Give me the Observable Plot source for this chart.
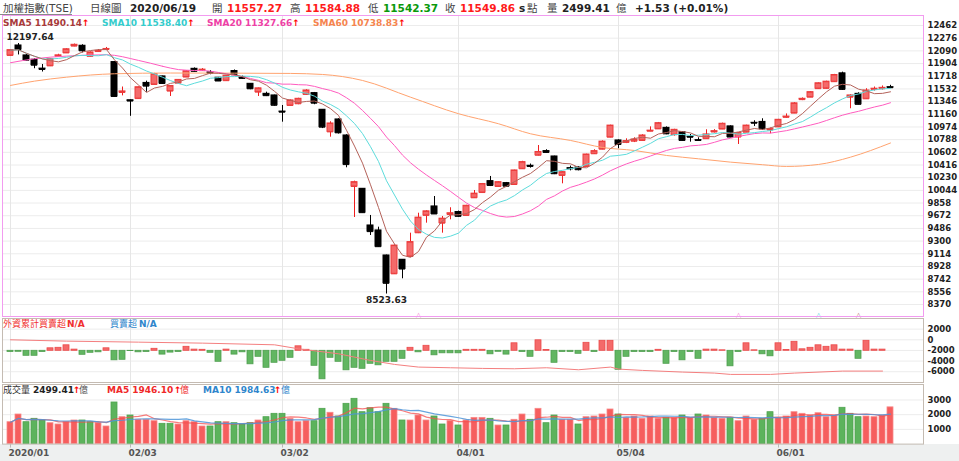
<!DOCTYPE html>
<html lang="zh-Hant">
<head>
<meta charset="utf-8">
<script src="https://cdn.jsdelivr.net/npm/d3@7"></script>
<script src="https://cdn.jsdelivr.net/npm/@observablehq/plot@0.6"></script>
<style>
html,body{margin:0;padding:0;background:#fff;}
#chart{position:relative;width:959px;height:461px;overflow:hidden;background:#fff;font-family:"DejaVu Sans","Noto Sans CJK TC",sans-serif;}
#chart svg{position:absolute;left:0;}
.t{position:absolute;white-space:nowrap;line-height:1;}
.b{font-weight:bold;}
#strip{position:absolute;left:0;top:444px;width:959px;height:17px;background:#eef0f0;}
#uline{position:absolute;left:0;top:14px;width:72px;height:1px;background:#8a8a8a;}
</style>
</head>
<body>
<div id="chart"><div id="strip"></div><div id="uline"></div></div>
<script>
// ---------- data ----------
const dates = [
"2020-01-02","2020-01-03","2020-01-06","2020-01-07","2020-01-08","2020-01-09","2020-01-10","2020-01-13","2020-01-14","2020-01-15",
"2020-01-16","2020-01-17","2020-01-20","2020-01-30","2020-01-31","2020-02-03","2020-02-04","2020-02-05","2020-02-06","2020-02-07",
"2020-02-10","2020-02-11","2020-02-12","2020-02-13","2020-02-14","2020-02-17","2020-02-18","2020-02-19","2020-02-20","2020-02-21",
"2020-02-24","2020-02-25","2020-02-26","2020-02-27","2020-03-02","2020-03-03","2020-03-04","2020-03-05","2020-03-06","2020-03-09",
"2020-03-10","2020-03-11","2020-03-12","2020-03-13","2020-03-16","2020-03-17","2020-03-18","2020-03-19","2020-03-20","2020-03-23",
"2020-03-24","2020-03-25","2020-03-26","2020-03-27","2020-03-30","2020-03-31","2020-04-01","2020-04-06","2020-04-07","2020-04-08",
"2020-04-09","2020-04-10","2020-04-13","2020-04-14","2020-04-15","2020-04-16","2020-04-17","2020-04-20","2020-04-21","2020-04-22",
"2020-04-23","2020-04-24","2020-04-27","2020-04-28","2020-04-29","2020-04-30","2020-05-04","2020-05-05","2020-05-06","2020-05-07",
"2020-05-08","2020-05-11","2020-05-12","2020-05-13","2020-05-14","2020-05-15","2020-05-18","2020-05-19","2020-05-20","2020-05-21",
"2020-05-22","2020-05-25","2020-05-26","2020-05-27","2020-05-28","2020-05-29","2020-06-01","2020-06-02","2020-06-03","2020-06-04",
"2020-06-05","2020-06-08","2020-06-09","2020-06-10","2020-06-11","2020-06-12","2020-06-15","2020-06-16","2020-06-17","2020-06-18",
"2020-06-19"];

const open = [
12023,12169,12023,11960,11830,11870,12010,12060,12160,12165,
12010,12080,12110,11925,11480,11365,11390,11620,11597,11715,
11500,11616,11706,11827,11800,11774,11696,11653,11794,11700,
11607,11485,11460,11436,11200,11289,11314,11451,11470,11226,
10902,11084,10849,10101,10067,9529,9456,9089,8820,9026,
9074,9422,9677,9808,9563,9690,9726,9676,9935,10012,
10179,10101,10150,10130,10361,10405,10559,10620,10541,10263,
10370,10380,10394,10581,10648,10824,10776,10747,10765,10776,
10912,10946,10961,10860,10897,10830,10780,10802,10900,10943,
10982,10826,10897,11035,11048,10930,10975,11115,11177,11375,
11411,11536,11540,11638,11760,11411,11460,11387,11525,11535,
11557.27];
const high = [
12110,12197.64,12035,11975,11890,11980,12040,12120,12190,12180,
12075,12110,12140,11930,11560,11370,11560,11646,11760,11720,
11580,11670,11795,11840,11830,11800,11700,11730,11810,11720,
11610,11545,11484,11440,11289,11370,11395,11520,11480,11230,
11050,11094,10860,10179,10070,9676,9504,9095,9245,9030,
9416,9709,9745,9954,9661,9789,9740,9825,10042,10145,
10248,10170,10160,10340,10470,10430,10702,10640,10545,10320,
10400,10390,10575,10640,10770,11000,10785,10800,10815,10860,
10975,11040,10975,10940,10905,10864,10815,10933,10935,11030,
10990,10890,11000,11065,11094,10960,11085,11165,11330,11400,
11490,11620,11645,11745,11778,11445,11475,11535,11560,11575,
11584.88];
const low = [
12010,12030,11940,11828,11780,11860,11995,12055,12150,12060,
12000,12070,12095,11410,11430,11130,11380,11484,11590,11600,
11421,11610,11700,11780,11790,11740,11640,11645,11725,11670,
11520,11421,11420,11280,11044,11280,11300,11440,11300,10950,
10824,10870,10375,9646,9710,9382,9210,8523.63,8810,8747,
9060,9410,9563,9690,9416,9612,9650,9670,9930,10000,
10100,10095,10090,10125,10355,10370,10550,10585,10275,10140,
10330,10330,10385,10570,10640,10815,10654,10730,10745,10770,
10905,10940,10860,10840,10765,10751,10770,10795,10885,10935,
10815,10717,10890,10981,10923,10874,10970,11100,11170,11360,
11405,11530,11530,11630,11510,11241,11300,11380,11500,11515,
11542.37];
const close = [
12100,12110,11953,11880,11817,11970,12024,12113,12179,12091,
12067,12090,12118,11421,11495,11354,11556,11573,11749,11612,
11574,11664,11791,11790,11815,11763,11648,11725,11741,11686,
11534,11540,11433,11292,11191,11363,11387,11509,11323,10971,
11025,10888,10422,10164,9717,9439,9218,8681,9234,8890,
9285,9644,9736,9698,9629,9708,9663,9818,9996,10137,
10116,10164,10105,10336,10458,10395,10607,10600,10288,10311,
10360,10347,10570,10619,10759,10994,10717,10767,10790,10849,
10920,11029,10873,10932,10776,10824,10776,10864,10912,11021,
10826,10885,10994,11030,10946,10942,11079,11127,11320,11387,
11484,11614,11638,11736,11525,11436,11306,11509,11535,11548,
11549.86];

// trading value (億), and whether the day closed up (U) or down (D) vs. the previous close
const volume = [
1490,2013,1490,1720,1605,1422,1333,1490,1605,1605,
1490,1422,1197,2830,1830,1945,1653,1653,1558,1380,
1380,1333,1558,1490,1197,1197,1490,1490,1422,1333,
1422,1605,1830,2060,2060,1720,1490,1558,1558,2400,
2130,1877,2740,3080,2170,2440,2170,2740,2400,1605,
1605,1945,1605,1877,1333,1558,1265,1605,1785,1785,
1720,1265,1265,1653,2013,1653,2400,1422,1945,1653,
1653,1333,1830,1877,2013,2354,2013,1785,1877,1720,
1877,1720,1785,1785,1945,1785,2013,1945,1785,1720,
1785,1558,1877,1653,1720,2170,1785,1877,2170,2060,
1945,2100,1830,1945,2470,2060,1830,1877,1830,1945,
2499.41];
const volumeDir = [
"U","U","D","D","D","U","U","U","U","D",
"D","U","U","D","U","D","U","U","U","D",
"D","U","U","U","U","D","D","U","D","D",
"D","U","D","D","D","U","U","U","D","D",
"U","D","D","D","D","D","D","D","U","D",
"U","U","U","D","D","U","D","U","U","U",
"D","U","D","U","U","D","U","D","D","U",
"U","D","U","U","U","U","D","U","U","U",
"U","U","D","U","D","U","D","U","U","U",
"D","U","U","U","D","D","U","U","U","U",
"U","U","U","U","D","D","D","U","U","U",
"U"];

// foreign investors daily net buy/sell bars (own scale) – last day N/A
const foreignNet = [
-12,-10,-50,-50,-12,25,30,55,12,-40,
-20,-15,25,-95,-90,-3,-15,-12,20,-38,
-18,-12,40,12,10,-20,-110,12,-38,-15,
-135,-60,-170,-120,-100,-70,45,10,-150,-285,
-70,-110,-195,-170,-180,-130,-145,-110,-110,-80,
30,-15,50,-45,-25,-25,-25,10,10,10,
-35,-10,-38,75,-12,-60,105,8,-120,-12,
-12,-30,80,-12,100,100,-190,-60,-12,-12,
-12,10,-130,-12,-95,-12,-80,12,12,5,
-155,-12,75,5,-35,-55,75,8,90,15,
30,55,40,55,12,12,-80,100,12,12];
// foreign cumulative net buy/sell line (read at these trading-day positions)
const foreignCumIdx = [0,7,16,24,33,36,41,45,48,51,55,59,63,67,71,75,76,79,84,88,90,95,98,104,109];
const foreignCum    = [0,-250,-440,-625,-940,-1690,-2625,-3875,-4625,-5125,-5250,-5375,-5440,-5250,-5625,-5125,-5500,-5750,-6060,-6250,-6500,-6500,-6250,-5875,-5875];

// SMA20 before 20 sessions of data exist, and SMA60 (needs data before the window)
const sma20LeadIdx = [0,3,7,12,16,19];
const sma20Lead    = [11916,11974,12013,12033,11950,11864];
const sma60Idx = [0,3,7,13,20,28,35,39,44,50,56,61,65,70,74,78,82,86,90,94,97,101,105,110];
const sma60    = [11583,11646,11704,11754,11765,11763,11759,11744,11656,11411,11168,11021,10874,10776,10673,10629,10556,10507,10458,10420,10395,10424,10531,10738.83];

// crossover markers at the bottom of the price panel
const crossIdx  = [51,91,101,106];
const crossType = ["SMA20","SMA20","SMA10","SMA5"];

const priceTicks = [8370,8556,8742,8928,9114,9300,9486,9672,9858,10044,10230,10416,10602,10788,10974,11160,11346,11532,11718,11904,12090,12276,12462];
const flowTicks = [2000,0,-2000,-4000,-6000];
const volumeTicks = [1000,2000,3000];
const monthTickDates  = ["2020-01-02","2020-02-03","2020-03-02","2020-04-01","2020-05-04","2020-06-01"];
const monthTickLabels = ["2020/01","02/03","03/02","04/01","05/04","06/01"];

// ---------- build ----------
const candles = dates.map((date,i)=>({date, open:open[i], high:high[i], low:low[i], close:close[i], volume:volume[i], dir:volumeDir[i]}));
const upC = candles.filter(d=>d.close>=d.open);
const dnC = candles.filter(d=>d.close<d.open);
const volUp = candles.filter(d=>d.dir==="U");
const volDn = candles.filter(d=>d.dir==="D");
const flows = foreignNet.map((v,i)=>({date:dates[i], v}));
const cumPts = foreignCumIdx.map((i,k)=>({date:dates[i], v:foreignCum[k]}));
const sma20LeadPts = sma20LeadIdx.map((i,k)=>({date:dates[i], v:sma20Lead[k]}));
const sma60Pts = sma60Idx.map((i,k)=>({date:dates[i], v:sma60[k]}));
const crosses = crossIdx.map((i,k)=>({date:dates[i], type:crossType[k]}));
const hiC = d3.greatest(candles, d=>d.high);
const loC = d3.least(candles, d=>d.low);

const COL = {
  upFill:"#f46a6a", upStroke:"#ec3c3c", upWick:"#f01e1e", dn:"#000",
  sma5:"#b4625a", sma10:"#5ddcdc", sma20:"#ff5cbf", sma60:"#ffa36f",
  grid:"#ececec", pink:"#f29bf0", frame:"#c4bbb2",
  volUp:"#f65e5e", volUpS:"#f88a8a", volDn:"#5cb35c", volDnS:"#4fa44f",
  flowUp:"#f46a6a", flowUpS:"#ec4a4a", flowDn:"#62b662", flowDnS:"#4f9f4f",
  cum:"#f47f7f", ma5:"#f45050", ma10:"#4d95d8"
};
const triCol = {SMA5:"#c08585", SMA10:"#66d8df", SMA20:"#f48fd6"};

const xBand = () => ({type:"band", domain:dates, range:[3,897.6], paddingInner:0.25, paddingOuter:0.125, axis:null});
const baseStyle = {fontFamily:"'DejaVu Sans', sans-serif", fontSize:"8.5px", fontWeight:"bold", color:"#222", background:"none", overflow:"visible"};
const chart = document.getElementById("chart");
function place(svg, top){ svg.style.top = top+"px"; chart.appendChild(svg); return svg; }

// price panel
const price = Plot.plot({
  width:959, height:318, marginTop:15, marginBottom:2, marginLeft:2, marginRight:36,
  x: xBand(),
  y: {domain:[8194,12608.7], axis:"right", ticks:priceTicks, tickSize:0, tickPadding:4, tickFormat:d=>String(d), label:null},
  style: baseStyle,
  marks: [
    Plot.ruleY(priceTicks, {stroke:COL.grid}),
    Plot.ruleX(monthTickDates, {stroke:"#e6e6e6"}),
    Plot.ruleX(upC, {x:"date", y1:"low", y2:"high", stroke:COL.upWick}),
    Plot.ruleX(dnC, {x:"date", y1:"low", y2:"high", stroke:COL.dn}),
    Plot.barY(upC, {x:"date", y1:"open", y2:"close", fill:COL.upFill, stroke:COL.upStroke, strokeWidth:1}),
    Plot.barY(dnC, {x:"date", y1:"open", y2:"close", fill:COL.dn, stroke:COL.dn, strokeWidth:1}),
    Plot.tickY(upC, {x:"date", y:"open", stroke:COL.upStroke}),
    Plot.tickY(upC, {x:"date", y:"close", stroke:COL.upStroke}),
    Plot.tickY(dnC, {x:"date", y:"open", stroke:COL.dn}),
    Plot.tickY(dnC, {x:"date", y:"close", stroke:COL.dn}),
    Plot.line(sma60Pts, {x:"date", y:"v", stroke:COL.sma60, strokeWidth:1, curve:"monotone-x"}),
    Plot.line(sma20LeadPts, {x:"date", y:"v", stroke:COL.sma20, strokeWidth:1, curve:"monotone-x"}),
    Plot.lineY(candles, Plot.windowY({k:20, anchor:"end", strict:true}, {x:"date", y:"close", stroke:COL.sma20, strokeWidth:1})),
    Plot.lineY(candles, Plot.windowY({k:10, anchor:"end"}, {x:"date", y:"close", stroke:COL.sma10, strokeWidth:1})),
    Plot.lineY(candles, Plot.windowY({k:5, anchor:"end"}, {x:"date", y:"close", stroke:COL.sma5, strokeWidth:1})),
    Plot.text([hiC], {x:"date", y:"high", text:d=>d.high.toFixed(2), textAnchor:"start", dx:-12, dy:-6, fontSize:9, fontWeight:"bold", fill:"#222"}),
    Plot.text([loC], {x:"date", y:"low", text:d=>d.low.toFixed(2), dy:6, fontSize:9, fontWeight:"bold", fill:"#222"}),
    ...["SMA5","SMA10","SMA20"].map(t => Plot.text(crosses.filter(d=>d.type===t), {x:"date", frameAnchor:"bottom", lineAnchor:"bottom", text:()=>"△", fill:triCol[t], fontSize:8, fontWeight:"normal", dy:1})),
    Plot.frame({stroke:COL.pink})
  ]
});
place(price, 0);

// foreign flow panel: axis + grid
const flowAxis = Plot.plot({
  width:959, height:80, marginTop:8, marginBottom:8, marginLeft:2, marginRight:36,
  x: xBand(),
  y: {domain:[-8019,4000], axis:"right", ticks:flowTicks, tickSize:0, tickPadding:4, tickFormat:d=>String(d), label:null},
  style: baseStyle,
  marks: [
    Plot.ruleY(flowTicks, {stroke:COL.grid}),
    Plot.ruleX(monthTickDates, {stroke:"#e6e6e6"}),
    Plot.frame({stroke:COL.frame})
  ]
});
place(flowAxis, 310);
// daily bars (own scale)
const flowBars = Plot.plot({
  width:959, height:80, marginTop:8, marginBottom:8, marginLeft:2, marginRight:36,
  x: xBand(),
  y: {domain:[-317,323], axis:null},
  style: baseStyle,
  marks: [
    Plot.barY(flows.filter(d=>d.v>=0), {x:"date", y:"v", fill:COL.flowUp, stroke:COL.flowUpS, strokeWidth:0.8}),
    Plot.barY(flows.filter(d=>d.v<0), {x:"date", y:"v", fill:COL.flowDn, stroke:COL.flowDnS, strokeWidth:0.8})
  ]
});
place(flowBars, 310);
// cumulative line
const flowLine = Plot.plot({
  width:959, height:80, marginTop:8, marginBottom:8, marginLeft:2, marginRight:36,
  x: xBand(),
  y: {domain:[-8019,4000], axis:null},
  style: baseStyle,
  marks: [ Plot.line(cumPts, {x:"date", y:"v", stroke:COL.cum, strokeWidth:1}) ]
});
place(flowLine, 310);

// volume panel
const vol = Plot.plot({
  width:959, height:85, marginTop:8, marginBottom:17.4, marginLeft:2, marginRight:36,
  x: {...xBand(), axis:"bottom", ticks:monthTickDates, tickFormat:d=>monthTickLabels[monthTickDates.indexOf(d)], tickSize:4, tickPadding:2, label:null},
  y: {domain:[0,4054], axis:"right", ticks:volumeTicks, tickSize:0, tickPadding:4, tickFormat:d=>String(d), label:null},
  style: {...baseStyle, fontSize:"9px"},
  marks: [
    Plot.ruleY(volumeTicks, {stroke:COL.grid}),
    Plot.ruleX(monthTickDates, {stroke:"#e6e6e6"}),
    Plot.barY(volUp, {x:"date", y:"volume", fill:COL.volUp, stroke:COL.volUpS, strokeWidth:0.8}),
    Plot.barY(volDn, {x:"date", y:"volume", fill:COL.volDn, stroke:COL.volDnS, strokeWidth:0.8}),
    Plot.lineY(candles, Plot.windowY({k:5, anchor:"end"}, {x:"date", y:"volume", stroke:COL.ma5, strokeOpacity:0.75, strokeWidth:1.2})),
    Plot.lineY(candles, Plot.windowY({k:10, anchor:"end"}, {x:"date", y:"volume", stroke:COL.ma10, strokeOpacity:0.85, strokeWidth:1.2})),
    Plot.frame({stroke:COL.frame})
  ]
});
place(vol, 376);
vol.querySelectorAll('[aria-label^="x-axis"] text').forEach(t=>{t.setAttribute("text-anchor","start"); t.style.textAnchor="start"; t.setAttribute("dx","-2"); t.setAttribute("fill","#555");});
vol.querySelectorAll('[aria-label^="x-axis"] line, [aria-label^="x-axis"] path').forEach(l=>l.setAttribute("stroke","#b8b8b8"));
vol.querySelectorAll('[aria-label^="y-axis"] text').forEach(t=>t.setAttribute("font-size","8.5px"));

// ---------- texts (header and panel legends) ----------
function put(html, x, yc, size, cls, color){
  const s = document.createElement("div");
  s.className = "t" + (cls ? " "+cls : "");
  s.style.left = x+"px"; s.style.top = (yc - 0.48*size)+"px";
  s.style.fontSize = size+"px"; if (color) s.style.color = color;
  s.innerHTML = html; chart.appendChild(s); return s;
}
const H = 7.6, HS = 10.5;
put("加權指數(TSE)", 3, H, HS, "", "#444");
put("日線圖", 90, H, HS, "", "#444");
put("2020/06/19", 130, H, HS, "b", "#222");
put("開", 212, H, HS, "", "#444"); put("11557.27", 227, H, HS, "b", "#ff1a1a");
put("高", 290, H, HS, "", "#444"); put("11584.88", 305, H, HS, "b", "#ff1a1a");
put("低", 368, H, HS, "", "#444"); put("11542.37", 383, H, HS, "b", "#0b990b");
put("收", 445, H, HS, "", "#444"); put("11549.86", 460, H, HS, "b", "#ff1a1a");
put("s", 519, H, HS, "b", "#222"); put("點", 527, H, HS, "", "#444");
put("量", 547, H, HS, "", "#444"); put("2499.41", 562, H, HS, "b", "#222"); put("億", 616, H, HS, "", "#444");
put("+1.53 (+0.01%)", 635, H, HS, "b", "#222");

const L1 = 23, LS = 9;
const arrow = '<span style="color:#f00">↑</span>';
put('<span style="color:#a83a3a">SMA5 11490.14</span>'+arrow, 3, L1, LS, "b");
put('<span style="color:#34cccc">SMA10 11538.40</span>'+arrow, 102, L1, LS, "b");
put('<span style="color:#ee3fa6">SMA20 11327.66</span>'+arrow, 207, L1, LS, "b");
put('<span style="color:#f5844e">SMA60 10738.83</span>'+arrow, 313, L1, LS, "b");

const L2 = 324.5;
put("外資累計買賣超", 3, L2, LS, "", "#f03030"); put("N/A", 67, L2, LS, "b", "#f03030");
put("買賣超", 110, L2, LS, "", "#2f86cc"); put("N/A", 139, L2, LS, "b", "#2f86cc");

const L3 = 390;
put("成交量", 3, L3, LS, "", "#333"); put("2499.41", 33, L3, LS, "b", "#222");
put(arrow, 73, L3, LS, "b"); put("億", 79, L3, LS, "", "#555");
put("MA5 1946.10", 107, L3, LS, "b", "#f02828"); put(arrow, 174, L3, LS, "b"); put("億", 180, L3, LS, "", "#f03030");
put("MA10 1984.63", 203, L3, LS, "b", "#2f86cc"); put(arrow, 274, L3, LS, "b"); put("億", 281, L3, LS, "", "#2f86cc");
</script>
</body>
</html>
